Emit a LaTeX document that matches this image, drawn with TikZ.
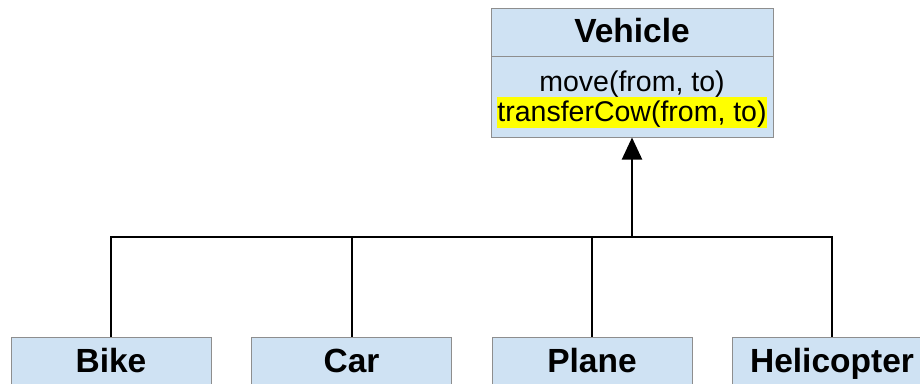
\documentclass[tikz,border=0pt]{standalone}
\usepackage{fontspec}
\setmainfont{Liberation Sans}
\usetikzlibrary{arrows.meta}
\definecolor{boxblue}{HTML}{CFE2F3}
\definecolor{boxline}{HTML}{8E8E8E}
\definecolor{marker}{HTML}{FFFF00}
\begin{document}
\begin{tikzpicture}[x=1pt,y=-1pt,
  classbox/.style={draw=boxline, fill=boxblue, line width=1pt, inner sep=0pt,
    minimum width=#1, text height=28pt, text depth=7pt,
    font=\fontsize{33.5}{38}\selectfont\bfseries},
  member/.style={inner sep=0pt, text height=25pt, text depth=6pt,
    font=\fontsize{28.5}{32}\selectfont},
  link/.style={line width=2pt, black}]
\useasboundingbox (0,0) rectangle (920,383);
\clip (0,0) rectangle (920,383);

% parent class with its method compartment
\node[classbox=282, minimum height=48] (vhead) at (632,32) {Vehicle};
\node[classbox=282, minimum height=81] (vbody) at (632,96.5) {};
\node[member] (move) at (632,81.5) {move(from, to)};
\node[member, fill=marker, minimum width=270, minimum height=30] (transfer) at (632,112) {transferCow(from, to)};

% subclasses
\node[classbox=200, minimum height=50] (bike)  at (111,362) {Bike};
\node[classbox=200, minimum height=50] (car)   at (351.5,362) {Car};
\node[classbox=200, minimum height=50] (plane) at (592,362) {Plane};
\node[classbox=200, minimum height=50] (heli)  at (832,362) {Helicopter};

% inheritance tree
\coordinate (bus) at (632,237);
\draw[link] (bike.north) -- (bike.north |- bus) -- (heli.north |- bus) -- (heli.north);
\draw[link] (car.north) -- (car.north |- bus);
\draw[link] (plane.north) -- (plane.north |- bus);
\draw[link, -{Triangle[width=20pt,length=22pt]}] (bus) -- (vbody.south);
\end{tikzpicture}
\end{document}
